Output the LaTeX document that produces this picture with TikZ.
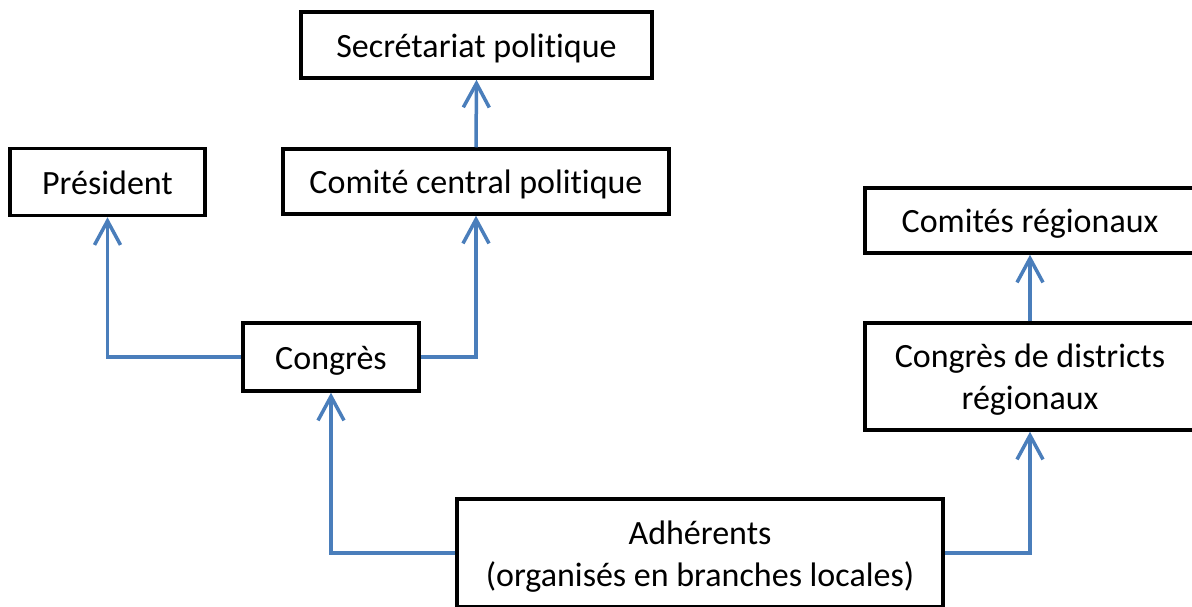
\documentclass[tikz,border=0pt]{standalone}
\usepackage{fontspec}
\setmainfont{Carlito}[Ligatures=NoCommon]
\usetikzlibrary{arrows.meta}
\definecolor{connblue}{HTML}{4A7EBB}
\newcommand{\boxtext}[1]{\raisebox{-4pt}[\height][\depth]{\begin{tabular}{@{}c@{}}#1\end{tabular}}}
\tikzset{
  orgbox/.style={draw=black, line width=3.5pt, inner sep=0pt,
    font=\fontsize{34}{42}\selectfont},
  conn/.style={draw=connblue, line width=3.5pt,
    -{Straight Barb[length=24pt,width=26pt]}}
}
\begin{document}
\begin{tikzpicture}[x=1pt,y=-1pt]
\clip (0,0) rectangle (1192,606);
\fill[white] (0,0) rectangle (1192,606);
\node[orgbox, minimum width=351pt, minimum height=66pt] (sec) at (476.5,45) {\boxtext{Secrétariat politique}};
\node[orgbox, minimum width=195pt, minimum height=67pt] (pres) at (107.5,182) {\boxtext{Président}};
\node[orgbox, minimum width=386pt, minimum height=65pt] (com) at (476,181.5) {\boxtext{Comité central politique}};
\node[orgbox, minimum width=330pt, minimum height=65pt] (cr) at (1030,220.5) {\boxtext{Comités régionaux}};
\node[orgbox, minimum width=176pt, minimum height=68pt] (cong) at (331,357) {\boxtext{Congrès}};
\node[orgbox, minimum width=330pt, minimum height=107pt] (cdr) at (1030,376.5) {\boxtext{Congrès de districts\\régionaux}};
\node[orgbox, minimum width=486pt, minimum height=108pt] (adh) at (700,553) {\boxtext{Adhérents\\(organisés en branches locales)}};
\draw[conn] (com.north) -- (sec.south);
\draw[conn] (cong.west) -| (pres.south);
\draw[conn] (cong.east) -| (com.south);
\draw[conn] (adh.west) -| (cong.south);
\draw[conn] (adh.east) -| (cdr.south);
\draw[conn] (cdr.north) -- (cr.south);
\end{tikzpicture}
\end{document}
